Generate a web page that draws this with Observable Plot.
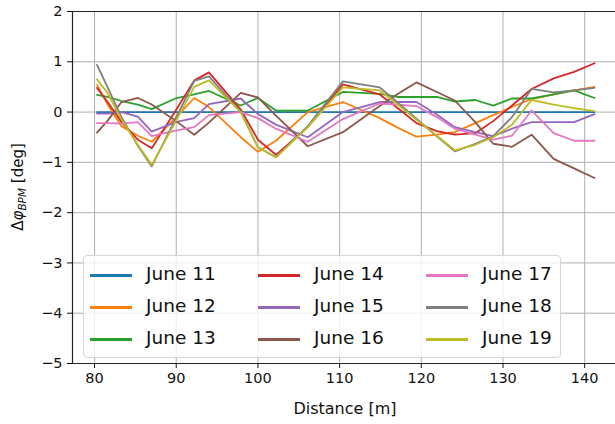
<!DOCTYPE html>
<html><head><meta charset="utf-8">
<script src="https://cdn.jsdelivr.net/npm/d3@7"></script>
<script src="https://cdn.jsdelivr.net/npm/@observablehq/plot@0.6"></script>
<style>
body{margin:0;background:#fff;font-family:"DejaVu Sans",sans-serif;}
#wrap{position:relative;width:615px;height:424px;overflow:hidden;}
#legend{position:absolute;left:83px;top:255px;width:478px;height:103px;box-sizing:border-box;border:1px solid #d5d5d5;border-radius:4px;background:rgba(255,255,255,0.8);}
.sw{position:absolute;width:42px;height:2.5px;}
.lt{position:absolute;font-size:18.5px;color:#111;line-height:1;white-space:nowrap;}
</style></head><body><div id="wrap"></div>
<script>
const distance = [80.3, 81.6, 83.3, 85.3, 87.0, 89.9, 92.2, 94.0, 97.9, 100.0, 102.2, 106.1, 110.4, 114.9, 117.1, 119.4, 121.9, 124.1, 126.6, 128.8, 131.1, 133.5, 136.2, 138.7, 141.2];
const june11 = [0,0,0,0,0,0,0,0,0,0,0,0,0,0,0,0,0,0,0,0,0,0,0,0,0];
const june12 = [0.54, 0.15, -0.28, -0.47, -0.59, -0.12, 0.28, 0.1, -0.5, -0.79, -0.57, 0.0, 0.2, -0.12, -0.31, -0.49, -0.45, -0.4, -0.22, -0.06, 0.1, 0.26, 0.35, 0.43, 0.5];
const june13 = [0.34, 0.3, 0.22, 0.15, 0.06, 0.27, 0.35, 0.42, 0.13, 0.28, 0.03, 0.03, 0.4, 0.36, 0.3, 0.3, 0.3, 0.21, 0.24, 0.13, 0.27, 0.27, 0.35, 0.43, 0.28];
const june14 = [0.48, 0.2, -0.2, -0.55, -0.72, 0.02, 0.63, 0.79, 0.05, -0.55, -0.85, -0.3, 0.55, 0.35, 0.08, -0.22, -0.38, -0.45, -0.42, -0.18, 0.13, 0.46, 0.67, 0.8, 0.97];
const june15 = [-0.03, -0.03, 0.0, -0.09, -0.39, -0.2, -0.12, 0.16, 0.27, -0.04, -0.25, -0.5, 0.0, 0.2, 0.2, 0.2, -0.05, -0.3, -0.4, -0.48, -0.33, -0.2, -0.2, -0.2, -0.04];
const june16 = [-0.41, -0.17, 0.2, 0.28, 0.15, -0.17, -0.45, -0.21, 0.38, 0.29, -0.07, -0.68, -0.4, 0.12, 0.36, 0.59, 0.4, 0.23, -0.2, -0.63, -0.69, -0.45, -0.93, -1.12, -1.31];
const june17 = [-0.22, -0.22, -0.23, -0.2, -0.48, -0.37, -0.3, -0.06, 0.0, -0.12, -0.33, -0.59, -0.14, 0.17, 0.15, 0.12, -0.1, -0.33, -0.45, -0.55, -0.47, 0.03, -0.42, -0.57, -0.57];
const june18 = [0.94, 0.49, -0.1, -0.67, -1.08, -0.14, 0.62, 0.71, 0.0, -0.7, -0.9, -0.28, 0.61, 0.49, 0.19, -0.13, -0.48, -0.78, -0.63, -0.48, -0.1, 0.46, 0.39, 0.43, 0.48];
const june19 = [0.65, 0.38, -0.15, -0.65, -1.05, -0.2, 0.5, 0.63, 0.0, -0.7, -0.9, -0.3, 0.49, 0.43, 0.15, -0.15, -0.47, -0.76, -0.65, -0.5, -0.25, 0.24, 0.15, 0.08, 0.02];
const seriesLabels = ["June 11","June 12","June 13","June 14","June 15","June 16","June 17","June 18","June 19"];
const seriesColors = ["#1f77b4","#ff7f0e","#2ca02c","#d62728","#9467bd","#8c564b","#e377c2","#7f7f7f","#bcbd22"];
const xTicks = [80, 90, 100, 110, 120, 130, 140];
const yTicks = [-5, -4, -3, -2, -1, 0, 1, 2];
const xDomain = [77.3, 143.77];
const yDomain = [-5, 2];

const allSeries = [june11, june12, june13, june14, june15, june16, june17, june18, june19];
const rows = [];
allSeries.forEach((vals, s) => vals.forEach((v, i) => rows.push({x: distance[i], y: v, series: seriesLabels[s]})));

const plot = Plot.plot({
  width: 615, height: 424,
  marginLeft: 72, marginRight: 0, marginTop: 11, marginBottom: 61,
  style: {fontFamily: "DejaVu Sans", fontSize: "14.5px", color: "#111", background: "white"},
  x: {domain: xDomain, label: null},
  y: {domain: yDomain, label: null},
  color: {domain: seriesLabels, range: seriesColors},
  marks: [
    Plot.gridX(xTicks, {stroke: "#b0b0b0", strokeOpacity: 1, strokeWidth: 1}),
    Plot.gridY(yTicks, {stroke: "#b0b0b0", strokeOpacity: 1, strokeWidth: 1}),
    Plot.lineY(rows, {x: "x", y: "y", z: "series", stroke: "series", strokeWidth: 1.8}),
    Plot.ruleX([xDomain[0]], {stroke: "#222", strokeWidth: 1.2}),
    Plot.ruleY([yDomain[0], yDomain[1]], {stroke: "#222", strokeWidth: 1.2}),
    Plot.axisX(xTicks, {tickSize: 5, tickPadding: 4, label: null, fontSize: 14.5, tickFormat: d3.format("d")}),
    Plot.axisY(yTicks, {tickSize: 5, tickPadding: 5, label: null, fontSize: 14.5, tickFormat: d3.format("d")})
  ]
});
const wrap = document.getElementById("wrap");
wrap.appendChild(plot);

const svg = d3.select(plot);
svg.append("text").attr("x", 345).attr("y", 414).attr("text-anchor", "middle")
  .attr("font-size", 16).attr("fill", "#111").attr("font-family", "DejaVu Sans").text("Distance [m]");
const yl = svg.append("text").attr("transform", "translate(23,187) rotate(-90)").attr("text-anchor", "middle")
  .attr("font-size", 15).attr("fill", "#111").attr("font-family", "DejaVu Sans");
yl.append("tspan").text("Δ");
yl.append("tspan").attr("font-style", "italic").text("φ");
yl.append("tspan").attr("font-style", "italic").attr("font-size", 10.5).attr("dy", 3).text("BPM");
yl.append("tspan").attr("dy", -3).text(" [deg]");

const legend = document.createElement("div");
legend.id = "legend";
wrap.appendChild(legend);
seriesLabels.forEach((lab, i) => {
  const col = Math.floor(i / 3), row = i % 3;
  const sw = document.createElement("div");
  sw.className = "sw";
  sw.style.background = seriesColors[i];
  sw.style.left = (6 + col * 168) + "px";
  sw.style.top = (18 + row * 32) + "px";
  legend.appendChild(sw);
  const t = document.createElement("div");
  t.className = "lt";
  t.textContent = lab;
  t.style.left = (62 + col * 168) + "px";
  t.style.top = (9 + row * 32) + "px";
  legend.appendChild(t);
});
</script></body></html>
